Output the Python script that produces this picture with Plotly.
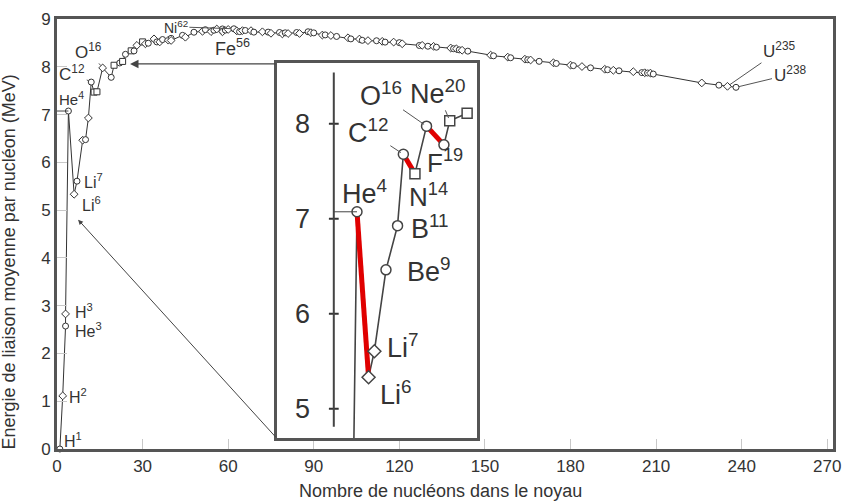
import plotly.graph_objects as go

# ---------------- data ----------------
names = ["H1","H2","He3","H3","He4","Li6","Li7","Be9","B10","B11","C12","C13","N14","O16","F19",
         "Ne20","Ne22","Na23","Mg24","Mg26","Al27","Si28","Si30","P31","S32","S34","Cl35","Ar36",
         "Cl37","K39","Ar40","Ca40","Ca44","Sc45","Ti48","V51","Cr52","Fe54","Mn55","Fe56","Fe58",
         "Ni58","Co59","Ni60","Ni62","Cu63","Zn64","Cu65","Zn66","Zn68","Ga69","Ge72","Ge74","As75",
         "Se78","Br79","Se80","Br81","Kr84","Rb85","Sr88","Y89","Zr90","Nb93","Zr94","Mo96","Mo98",
         "Ru102","Rh103","Pd106","Ag107","Ag109","Cd112","Cd114","In115","Sn118","Sn120","Sb121",
         "I127","Te128","Te130","Xe132","Cs133","Ba138","La139","Ce140","Pr141","Nd142","Nd144",
         "Sm152","Eu153","Gd158","Tb159","Dy164","Ho165","Er166","Tm169","Yb174","Lu175","Hf180",
         "Ta181","W184","Re187","Os192","Ir193","Pt195","Au197","Hg202","Tl205","Pb206","Pb207",
         "Pb208","Bi209","Ra226","Th232","U235","U238"]
nucleons = [1,2,3,3,4,6,7,9,10,11,12,13,14,16,19,
            20,22,23,24,26,27,28,30,31,32,34,35,36,
            37,39,40,40,44,45,48,51,52,54,55,56,58,
            58,59,60,62,63,64,65,66,68,69,72,74,75,
            78,79,80,81,84,85,88,89,90,93,94,96,98,
            102,103,106,107,109,112,114,115,118,120,121,
            127,128,130,132,133,138,139,140,141,142,144,
            152,153,158,159,164,165,166,169,174,175,180,
            181,184,187,192,193,195,197,202,205,206,207,
            208,209,226,232,235,238]
binding = [0.0,1.112,2.573,2.827,7.074,5.332,5.606,6.463,6.475,6.928,7.680,7.470,7.476,7.976,7.779,
           8.032,8.080,8.112,8.261,8.334,8.332,8.448,8.521,8.481,8.493,8.584,8.520,8.520,
           8.570,8.557,8.595,8.551,8.658,8.619,8.723,8.742,8.776,8.736,8.765,8.790,8.792,
           8.732,8.768,8.781,8.795,8.752,8.736,8.757,8.760,8.756,8.725,8.732,8.725,8.701,
           8.718,8.688,8.711,8.696,8.717,8.697,8.733,8.714,8.710,8.664,8.667,8.654,8.635,
           8.607,8.584,8.580,8.554,8.548,8.545,8.532,8.516,8.517,8.505,8.482,
           8.446,8.449,8.430,8.428,8.410,8.393,8.378,8.376,8.354,8.346,8.327,
           8.244,8.229,8.202,8.189,8.159,8.147,8.142,8.114,8.084,8.069,8.035,
           8.023,8.005,7.978,7.948,7.938,7.927,7.916,7.897,7.878,7.875,7.870,
           7.868,7.848,7.662,7.615,7.591,7.570]
assert len(names) == len(nucleons) == len(binding)

inset_names = ["He3","He4","Li6","Li7","Be9","B11","C12","N14","O16","F19","Ne20","Na23"]
red_pairs = [("He4","Li6"), ("C12","N14"), ("O16","F19")]
x_ticks = [0, 30, 60, 90, 120, 150, 180, 210, 240, 270]
y_ticks = [0, 1, 2, 3, 4, 5, 6, 7, 8, 9]
inset_y_ticks = [5, 6, 7, 8]

# ---------------- helpers ----------------
idx = {n: i for i, n in enumerate(names)}
def pt(n):
    i = idx[n]
    return nucleons[i], binding[i]

def lab(n):
    el = n.rstrip("0123456789")
    num = n[len(el):]
    return f"{el}<sup>{num}</sup>"

FONT = "Liberation Sans, Arial, sans-serif"
DARK = "#333333"
FRAME = "#555555"

square_set = {"C13", "N14", "Ne20", "Na23", "Mg26", "Si30"}
sym_main = []
for i, n in enumerate(names):
    if n in square_set:
        sym_main.append("square")
    else:
        sym_main.append("circle" if i % 2 == 0 else "diamond")

fig = go.Figure()

# main curve
fig.add_trace(go.Scatter(
    x=nucleons, y=binding, mode="lines+markers", cliponaxis=False,
    line=dict(color=DARK, width=1),
    marker=dict(symbol=sym_main, size=6, color="white", line=dict(color=DARK, width=1)),
    hoverinfo="skip", showlegend=False, xaxis="x", yaxis="y"))

# inset curve
ia = [pt(n)[0] for n in inset_names]
ib = [pt(n)[1] for n in inset_names]
fig.add_trace(go.Scatter(
    x=ia, y=ib, mode="lines", line=dict(color="#444444", width=1.6),
    hoverinfo="skip", showlegend=False, xaxis="x2", yaxis="y2"))
for a, b in red_pairs:
    (x0, y0), (x1, y1) = pt(a), pt(b)
    fig.add_trace(go.Scatter(
        x=[x0, x1], y=[y0, y1], mode="lines", line=dict(color="#e00000", width=5),
        hoverinfo="skip", showlegend=False, xaxis="x2", yaxis="y2"))
inset_sym = {"He3": "circle", "He4": "circle", "Li6": "diamond", "Li7": "diamond", "Be9": "circle",
             "B11": "circle", "C12": "circle", "N14": "square", "O16": "circle", "F19": "circle",
             "Ne20": "square", "Na23": "square"}
fig.add_trace(go.Scatter(
    x=ia[1:], y=ib[1:], mode="markers",
    marker=dict(symbol=[inset_sym[n] for n in inset_names[1:]], size=10, color="white",
                line=dict(color="#444444", width=1.5)),
    hoverinfo="skip", showlegend=False, xaxis="x2", yaxis="y2"))
# inset axis tick marks
fig.add_trace(go.Scatter(
    x=[0] * len(inset_y_ticks), y=inset_y_ticks, mode="markers",
    marker=dict(symbol="line-ew", size=7, line=dict(color="#333333", width=2)),
    hoverinfo="skip", showlegend=False, xaxis="x2", yaxis="y2"))

shapes = []
# inset vertical axis line
shapes.append(dict(type="line", xref="x2", yref="y2", x0=0, x1=0, y0=4.81, y1=8.54,
                   line=dict(color="#444444", width=2)))
he4 = pt("He4")
shapes.append(dict(type="line", xref="x2", yref="y2", x0=0, x1=he4[0], y0=he4[1], y1=he4[1],
                   line=dict(color="#444444", width=1)))
shapes.append(dict(type="line", xref="x", yref="y", x0=0, x1=he4[0], y0=he4[1], y1=he4[1],
                   line=dict(color="#444444", width=1)))

ann = []
def text_at(n, xs, ys, size, xref="x", yref="y"):
    x, y = pt(n)
    ann.append(dict(x=x, y=y, xref=xref, yref=yref, text=lab(n), showarrow=False,
                    xanchor="left", yanchor="middle", xshift=xs, yshift=ys,
                    font=dict(family=FONT, size=size, color=DARK)))

def leader_at(n, ax, ay, size, xref="x", yref="y"):
    x, y = pt(n)
    ann.append(dict(x=x, y=y, xref=xref, yref=yref, text=lab(n), showarrow=True,
                    arrowhead=0, arrowwidth=1, arrowcolor="#555555", ax=ax, ay=ay, standoff=3,
                    font=dict(family=FONT, size=size, color=DARK)))

# main labels
text_at("H1", 2, 9, 16)
text_at("H2", 4, 0, 16)
text_at("H3", 7, 3, 16)
text_at("He3", 7, -4, 16)
text_at("He4", -11, 13, 15)
text_at("Li7", 5, 0, 16)
text_at("Li6", 6, -10, 16)
leader_at("C12", -19, -9, 17)
leader_at("O16", -14, -17, 17)
leader_at("Ni62", -58, -2, 14)
leader_at("Fe56", 16, 18, 18)
leader_at("U235", 52, -36, 17)
leader_at("U238", 54, -13, 17)

# inset labels
text_at("He4", -17, 20, 27, "x2", "y2")
text_at("Li7", 11, 5, 27, "x2", "y2")
text_at("Li6", 9, -16, 27, "x2", "y2")
text_at("Be9", 19, 0, 27, "x2", "y2")
text_at("B11", 11, -1, 27, "x2", "y2")
text_at("N14", -8, -22, 26, "x2", "y2")
text_at("F19", -19, -17, 26, "x2", "y2")
leader_at("C12", -35, -23, 27, "x2", "y2")
leader_at("O16", -46, -32, 27, "x2", "y2")
leader_at("Ne20", -12, -29, 27, "x2", "y2")

for v in inset_y_ticks:
    ann.append(dict(x=0, y=v, xref="x2", yref="y2", text=str(v), showarrow=False,
                    xanchor="center", yanchor="middle", xshift=-31,
                    font=dict(family=FONT, size=27, color=DARK)))

# arrows pointing to the inset region
ann.append(dict(x=25.6, y=8.06, xref="x", yref="y", ax=77.1, ay=8.06, axref="x", ayref="y",
                text="", showarrow=True, arrowhead=2, arrowsize=1.3, arrowwidth=1.3,
                arrowcolor="#444444"))
ann.append(dict(x=7.4, y=4.8, xref="x", yref="y", ax=77.1, ay=0.22, axref="x", ayref="y",
                text="", showarrow=True, arrowhead=2, arrowsize=1, arrowwidth=1,
                arrowcolor="#444444"))

# axis titles
ann.append(dict(x=0.4936, y=-0.098, xref="paper", yref="paper", showarrow=False,
                text="Nombre de nucléons dans le noyau", xanchor="center", yanchor="middle",
                font=dict(family=FONT, size=18, color=DARK)))
ann.append(dict(x=-0.0619, y=0.436, xref="paper", yref="paper", showarrow=False,
                text="Energie de liaison moyenne par nucléon (MeV)", textangle=-90,
                xanchor="center", yanchor="middle",
                font=dict(family=FONT, size=18, color=DARK)))

axis_common = dict(showline=True, mirror=True, linecolor=FRAME, linewidth=3,
                   showgrid=False, zeroline=False)

fig.update_layout(
    width=855, height=501,
    margin=dict(l=57, r=22, t=10, b=52),
    paper_bgcolor="white", plot_bgcolor="white",
    showlegend=False,
    xaxis=dict(domain=[0, 1], range=[0, 272], tickvals=x_ticks, ticks="inside", ticklen=10,
               tickcolor="#c8c8c8", tickwidth=1,
               tickfont=dict(family=FONT, size=17, color=DARK), **axis_common),
    yaxis=dict(domain=[0, 1], range=[0, 9], tickvals=y_ticks, ticks="inside", ticklen=10,
               tickcolor="#c8c8c8", tickwidth=1,
               tickfont=dict(family=FONT, size=17, color=DARK), **axis_common),
    xaxis2=dict(domain=[0.2835, 0.5412], anchor="y2", range=[-9.8, 24.7],
                showticklabels=False, ticks="", **axis_common),
    yaxis2=dict(domain=[0.0251, 0.8975], anchor="x2", range=[4.69, 8.64],
                showticklabels=False, ticks="", **axis_common),
    shapes=shapes,
    annotations=ann,
)

fig.write_html("out.html", config={"displayModeBar": False},
               post_script="document.body.style.margin='0';document.body.style.overflow='hidden';")
